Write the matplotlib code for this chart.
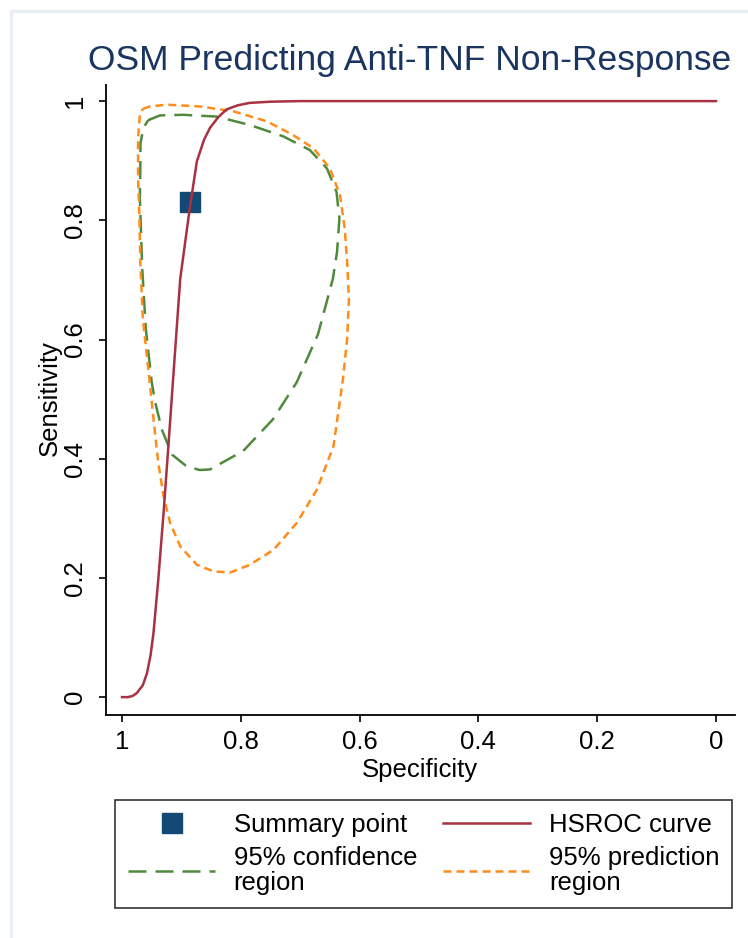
import matplotlib
matplotlib.use("Agg")
import matplotlib.pyplot as plt
from matplotlib.patches import Rectangle

plt.rcParams['font.family'] = ['Liberation Sans', 'DejaVu Sans']

# summary point (specificity, sensitivity)
summary_spec = [0.885]
summary_sens = [0.831]

# HSROC curve
hsroc_spec = [1.0, 0.99, 0.982, 0.975, 0.965, 0.958, 0.952, 0.947, 0.939, 0.930, 0.922, 0.914,
              0.902, 0.886, 0.874, 0.862, 0.852, 0.838, 0.824, 0.805, 0.785, 0.75, 0.70, 0.0]
hsroc_sens = [0.0, 0.0, 0.002, 0.007, 0.02, 0.04, 0.07, 0.108, 0.197, 0.31, 0.421, 0.534,
              0.702, 0.82, 0.899, 0.935, 0.955, 0.973, 0.986, 0.993, 0.997, 0.999, 1.0, 1.0]

# 95% confidence region
conf_spec = [0.956, 0.936, 0.897, 0.841, 0.785, 0.729, 0.684, 0.655, 0.639, 0.634, 0.638,
             0.645, 0.670, 0.706, 0.746, 0.796, 0.852, 0.869, 0.891, 0.916, 0.933, 0.944,
             0.950, 0.960, 0.966, 0.970, 0.969, 0.969, 0.964, 0.956]
conf_sens = [0.968, 0.976, 0.977, 0.974, 0.960, 0.941, 0.918, 0.887, 0.848, 0.803, 0.747,
             0.702, 0.609, 0.528, 0.466, 0.413, 0.382, 0.381, 0.387, 0.407, 0.449, 0.494,
             0.528, 0.618, 0.719, 0.837, 0.904, 0.929, 0.955, 0.968]

# 95% prediction region
pred_spec = [0.965, 0.953, 0.925, 0.869, 0.813, 0.756, 0.712, 0.678, 0.650, 0.633, 0.625,
             0.621, 0.618, 0.621, 0.628, 0.644, 0.672, 0.706, 0.745, 0.785, 0.818, 0.846,
             0.874, 0.902, 0.919, 0.930, 0.939, 0.947, 0.954, 0.965, 0.969, 0.971, 0.973,
             0.973, 0.970, 0.965]
pred_sens = [0.987, 0.991, 0.994, 0.991, 0.983, 0.966, 0.943, 0.921, 0.887, 0.842, 0.786,
             0.730, 0.668, 0.601, 0.534, 0.421, 0.348, 0.292, 0.247, 0.222, 0.209, 0.211,
             0.222, 0.253, 0.292, 0.337, 0.393, 0.466, 0.534, 0.635, 0.724, 0.815, 0.870,
             0.938, 0.977, 0.987]

ticks = [1, 0.8, 0.6, 0.4, 0.2, 0]
tick_labels = ['1', '0.8', '0.6', '0.4', '0.2', '0']

navy = '#134a75'
red = '#a83242'
green = '#4f8a3c'
orange = '#ff8c1a'

W, H = 748, 938
fs = 18.5
fig = plt.figure(figsize=(W / 100, H / 100), dpi=100)
fig.patch.set_facecolor('white')

# light outer frame (graph region)
fig.patches.append(Rectangle((11 / W, -0.1), 2, 1.1 - 11 / H, transform=fig.transFigure,
                             fill=False, edgecolor='#e8eef4', lw=2.2))

ax = fig.add_axes([106 / W, 1 - 715 / H, 629 / W, 630 / H])
ax.plot(conf_spec, conf_sens, color=green, lw=1.8, linestyle=(0, (7.2, 3.6)),
        label='95% confidence\nregion', zorder=2)
ax.plot(pred_spec, pred_sens, color=orange, lw=1.8, linestyle=(0, (3.2, 2.0)),
        label='95% prediction\nregion', zorder=2)
ax.plot(summary_spec, summary_sens, linestyle='none', marker='s', markersize=14,
        color=navy, label='Summary point', zorder=3)
ax.plot(hsroc_spec, hsroc_sens, color=red, lw=1.8, label='HSROC curve', zorder=4)

ax.set_xlim(1.027, -0.032)
ax.set_ylim(-0.030, 1.027)
ax.set_xticks(ticks)
ax.set_xticklabels(tick_labels, fontsize=fs)
ax.set_yticks(ticks)
ax.set_yticklabels(tick_labels, fontsize=fs, rotation=90, va='center')
ax.tick_params(axis='x', length=5, width=1.2, pad=6)
ax.tick_params(axis='y', length=5, width=1.2, pad=9)
for s in ['top', 'right']:
    ax.spines[s].set_visible(False)
for s in ['left', 'bottom']:
    ax.spines[s].set_linewidth(1.3)

fig.text(420 / W, 1 - 770 / H, 'Specificity', fontsize=fs, ha='center', va='center')
fig.text(50 / W, 1 - 398 / H, 'Sensitivity', fontsize=fs, ha='center', va='center',
         rotation=90)
fig.text(88 / W, 1 - 60 / H, 'OSM Predicting Anti-TNF Non-Response', fontsize=25.5,
         color='#1a3560', ha='left', va='center')

h, l = ax.get_legend_handles_labels()
order = [2, 0, 3, 1]
leg = fig.legend([h[i] for i in order], [l[i] for i in order], ncol=2,
                 loc='upper left', bbox_to_anchor=(115 / W, 1 - 800 / H),
                 borderaxespad=0, fontsize=fs, frameon=True, fancybox=False,
                 handlelength=3.4, handletextpad=0.72, columnspacing=1.0,
                 borderpad=0.5, labelspacing=0.35)
leg.get_frame().set_edgecolor('black')
leg.get_frame().set_linewidth(1.2)
for t in leg.get_texts():
    t.set_linespacing(1.08)

fig.savefig('out.png', dpi=100)
